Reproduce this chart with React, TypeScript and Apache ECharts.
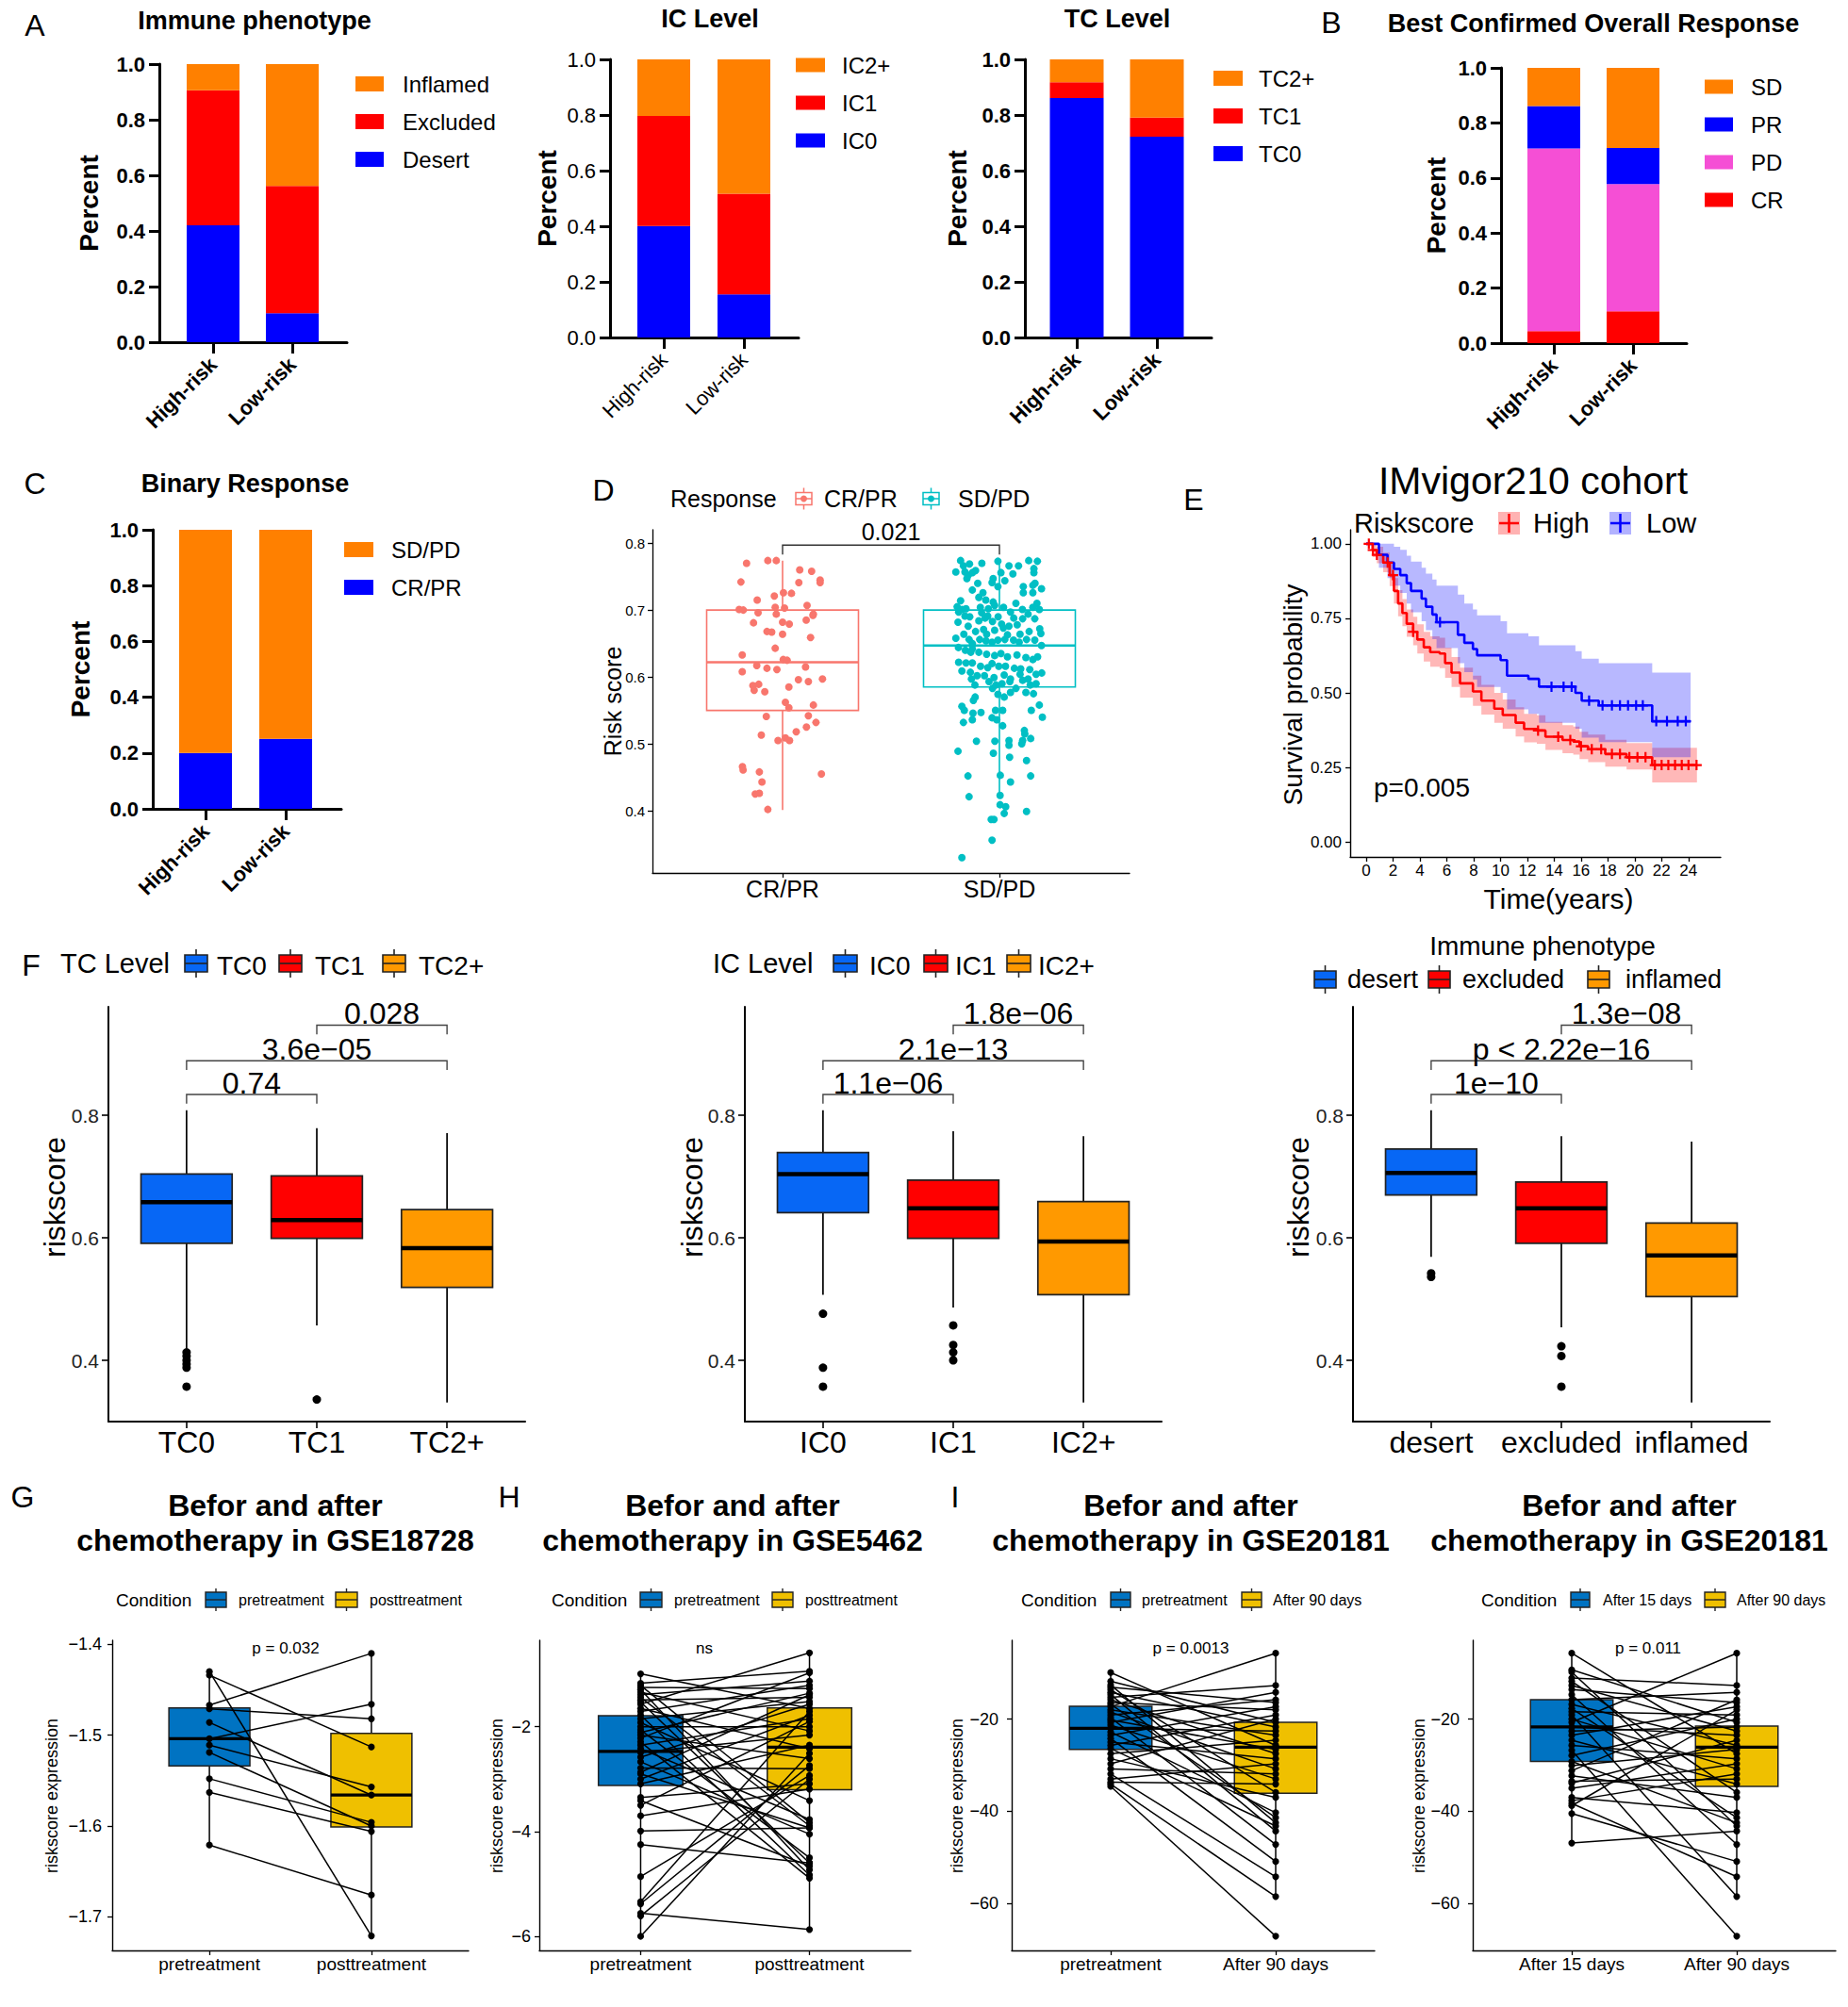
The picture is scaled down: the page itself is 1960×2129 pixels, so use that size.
import React, { useEffect, useRef } from 'react';
import * as echarts from 'echarts';

const FONT = '"Liberation Sans", Arial, Helvetica, sans-serif';

// ================= DATA =================
const riskGroups = ['High-risk', 'Low-risk'];

// A: Immune phenotype (segment fractions, High-risk / Low-risk)
const immuneDesert = [0.42, 0.104];
const immuneExcluded = [0.486, 0.458];
const immuneInflamed = [0.094, 0.438];
// A: IC Level
const icLevel0 = [0.401, 0.155];
const icLevel1 = [0.396, 0.362];
const icLevel2 = [0.203, 0.483];
// A: TC Level
const tcLevel0 = [0.861, 0.722];
const tcLevel1 = [0.057, 0.069];
const tcLevel2 = [0.082, 0.209];
// B: Best confirmed overall response
const borCR = [0.044, 0.116];
const borPD = [0.663, 0.462];
const borPR = [0.154, 0.131];
const borSD = [0.139, 0.291];
// C: Binary response
const binCRPR = [0.2, 0.251];
const binSDPD = [0.8, 0.749];

// D: Risk score by response  [min, Q1, median, Q3, max]
const responseGroups = ['CR/PR', 'SD/PD'];
const respBoxCRPR = [0.401, 0.55, 0.622, 0.7, 0.774];
const respBoxSDPD = [0.421, 0.585, 0.647, 0.7, 0.774];
// [jitter offset, risk score]
const respPointsCRPR = [
  [-0.166, 0.770], [-0.068, 0.774], [-0.029, 0.774], [-0.192, 0.742], [0.079, 0.760], [0.134, 0.758],
  [0.173, 0.745], [0.173, 0.741], [0.075, 0.741], [-0.117, 0.715], [-0.038, 0.721], [0.004, 0.726],
  [0.041, 0.725], [0.113, 0.707], [-0.2, 0.701], [-0.181, 0.700], [-0.113, 0.696], [-0.034, 0.704],
  [0.009, 0.703], [-0.029, 0.694], [0.142, 0.694], [0.14, 0.692], [-0.134, 0.681], [0, 0.682],
  [0.031, 0.679], [0.109, 0.685], [-0.072, 0.668], [-0.05, 0.667], [0, 0.664], [0.129, 0.659],
  [-0.034, 0.643], [-0.186, 0.633], [-0.119, 0.617], [-0.072, 0.613], [-0.026, 0.611], [0.003, 0.626],
  [0.021, 0.625], [0.106, 0.615], [-0.186, 0.608], [0.029, 0.585], [0.073, 0.596], [0.119, 0.593],
  [0.184, 0.597], [-0.137, 0.587], [-0.11, 0.589], [-0.131, 0.580], [-0.082, 0.578], [0.013, 0.562],
  [0.029, 0.554], [0.142, 0.558], [-0.075, 0.541], [0.119, 0.542], [0.154, 0.532], [0.11, 0.525],
  [0.063, 0.518], [-0.098, 0.513], [-0.021, 0.505], [0.013, 0.509], [0.032, 0.505], [-0.185, 0.466],
  [-0.182, 0.461], [-0.107, 0.458], [-0.095, 0.443], [0.179, 0.455], [-0.126, 0.425], [-0.107, 0.426],
  [-0.068, 0.402],
];
const respPointsSDPD = [
  [-0.179, 0.774], [-0.007, 0.773], [0.135, 0.774], [0.175, 0.773], [-0.201, 0.757], [-0.166, 0.766],
  [-0.138, 0.769], [-0.081, 0.770], [0.044, 0.766], [0.088, 0.766], [0.007, 0.756], [0.062, 0.754],
  [0.159, 0.762], [0.159, 0.756], [-0.159, 0.757], [-0.144, 0.752], [-0.125, 0.756], [-0.11, 0.759],
  [-0.029, 0.747], [0.025, 0.744], [0.11, 0.735], [0.154, 0.737], [0.164, 0.740], [0.194, 0.732],
  [-0.1, 0.740], [-0.15, 0.747], [-0.034, 0.741], [-0.007, 0.735], [-0.076, 0.726], [-0.125, 0.730],
  [0.11, 0.726], [0.154, 0.726], [-0.095, 0.719], [-0.063, 0.715], [-0.029, 0.712], [-0.179, 0.714],
  [-0.022, 0.707], [0.076, 0.710], [0.173, 0.710], [-0.195, 0.705], [-0.154, 0.702], [-0.088, 0.704],
  [-0.051, 0.702], [0.019, 0.704], [-0.188, 0.697], [-0.172, 0.701], [-0.082, 0.696], [-0.054, 0.691],
  [-0.006, 0.690], [0.051, 0.697], [0.106, 0.701], [0.154, 0.704], [0.184, 0.701], [0.163, 0.687],
  [0.132, 0.694], [0.107, 0.687], [0.066, 0.688], [0.082, 0.678], [0.044, 0.676], [0.01, 0.679],
  [-0.032, 0.683], [-0.066, 0.688], [-0.095, 0.684], [-0.137, 0.690], [-0.159, 0.691], [-0.191, 0.682],
  [-0.144, 0.676], [-0.11, 0.668], [-0.073, 0.671], [-0.059, 0.664], [-0.022, 0.670], [0.018, 0.673],
  [0.037, 0.663], [0.095, 0.664], [0.137, 0.668], [0.186, 0.672], [0.191, 0.665], [-0.201, 0.658],
  [-0.164, 0.664], [-0.14, 0.656], [-0.125, 0.650], [-0.091, 0.656], [-0.062, 0.654], [-0.034, 0.652],
  [-0.007, 0.655], [0.025, 0.656], [0.065, 0.655], [0.091, 0.652], [0.125, 0.656], [0.163, 0.655],
  [0.194, 0.647], [-0.189, 0.644], [-0.157, 0.640], [-0.132, 0.637], [-0.095, 0.637], [-0.125, 0.642],
  [-0.059, 0.634], [-0.022, 0.632], [0.007, 0.635], [0.037, 0.630], [0.081, 0.633], [0.122, 0.629],
  [0.154, 0.626], [0.176, 0.630], [-0.188, 0.622], [-0.154, 0.621], [-0.125, 0.621], [-0.087, 0.616],
  [-0.054, 0.614], [-0.034, 0.620], [-0.003, 0.616], [0.028, 0.616], [0.069, 0.613], [0.098, 0.612],
  [0.14, 0.611], [0.169, 0.604], [0.195, 0.606], [-0.173, 0.609], [-0.134, 0.607], [-0.103, 0.602],
  [-0.069, 0.602], [-0.025, 0.599], [0.022, 0.603], [0.051, 0.597], [0.132, 0.597], [0.095, 0.604],
  [-0.129, 0.597], [-0.113, 0.588], [-0.048, 0.593], [-0.016, 0.588], [0.012, 0.590], [0.048, 0.593],
  [0.076, 0.583], [0.107, 0.595], [0.169, 0.590], [0.142, 0.588], [-0.007, 0.574], [0.022, 0.570],
  [0.051, 0.577], [0.122, 0.577], [0.157, 0.575], [-0.112, 0.570], [-0.12, 0.565], [-0.032, 0.583],
  [0.184, 0.558], [-0.173, 0.556], [-0.162, 0.550], [-0.122, 0.546], [-0.085, 0.547], [-0.018, 0.550],
  [-0.012, 0.536], [0.015, 0.550], [-0.034, 0.539], [0.147, 0.550], [-0.166, 0.532], [-0.125, 0.536],
  [0.015, 0.527], [0.115, 0.520], [0.144, 0.508], [0.117, 0.515], [0.107, 0.505], [0.044, 0.505],
  [0.044, 0.498], [0.103, 0.500], [0.198, 0.540], [-0.106, 0.504], [-0.021, 0.504], [-0.028, 0.486],
  [-0.191, 0.489], [0.047, 0.480], [0.125, 0.475], [-0.145, 0.452], [0.004, 0.453], [0.051, 0.443],
  [0.144, 0.452], [-0.14, 0.421], [0.003, 0.423], [0.003, 0.409], [0.029, 0.406], [0.022, 0.396],
  [0.125, 0.399], [-0.038, 0.387], [-0.025, 0.387], [-0.034, 0.356], [-0.173, 0.330],
];

// E: Kaplan-Meier, IMvigor210
const kmTicks = [0, 2, 4, 6, 8, 10, 12, 14, 16, 18, 20, 22, 24];
const kmHighTime = [0, 0.48, 0.79, 1.27, 1.75, 2.07, 2.38, 2.7, 3.02, 3.5, 3.81, 4.29, 4.77, 5.47, 5.88, 6.36, 6.99, 7.95, 8.58, 9.54, 10.17, 11.13, 11.76, 12.71, 13.35, 14.62, 15.42, 15.89, 16.53, 17.8, 19.39, 21.3, 24.63];
const kmHighSurv = [1, 0.979, 0.963, 0.937, 0.895, 0.842, 0.8, 0.768, 0.732, 0.705, 0.679, 0.653, 0.637, 0.632, 0.6, 0.568, 0.532, 0.505, 0.474, 0.447, 0.426, 0.4, 0.379, 0.374, 0.353, 0.342, 0.337, 0.321, 0.311, 0.295, 0.284, 0.258, 0.258];
const kmHighUpper = [1, 1, 0.99, 0.97, 0.935, 0.885, 0.845, 0.815, 0.78, 0.755, 0.73, 0.705, 0.69, 0.685, 0.652, 0.62, 0.585, 0.558, 0.527, 0.5, 0.478, 0.452, 0.43, 0.425, 0.403, 0.392, 0.387, 0.37, 0.36, 0.343, 0.332, 0.316, 0.316];
const kmHighLower = [1, 0.955, 0.935, 0.905, 0.858, 0.8, 0.757, 0.724, 0.688, 0.66, 0.632, 0.605, 0.588, 0.583, 0.551, 0.52, 0.484, 0.457, 0.427, 0.4, 0.38, 0.354, 0.334, 0.329, 0.309, 0.298, 0.293, 0.278, 0.268, 0.253, 0.243, 0.2, 0.2];
const kmLowTime = [0, 0.95, 1.59, 2.07, 2.54, 3.02, 3.34, 4.13, 4.45, 4.93, 5.24, 6.83, 7.31, 7.95, 8.26, 10.01, 10.49, 12.08, 12.87, 15.58, 16.05, 17.32, 21.3, 24.16];
const kmLowSurv = [1, 0.963, 0.937, 0.916, 0.895, 0.868, 0.842, 0.816, 0.789, 0.763, 0.737, 0.695, 0.668, 0.647, 0.626, 0.61, 0.558, 0.547, 0.521, 0.5, 0.474, 0.458, 0.405, 0.405];
const kmLowUpper = [1, 1, 1, 0.99, 0.98, 0.96, 0.94, 0.92, 0.9, 0.88, 0.86, 0.83, 0.8, 0.78, 0.76, 0.74, 0.7, 0.69, 0.66, 0.64, 0.615, 0.6, 0.568, 0.568];
const kmLowLower = [1, 0.92, 0.885, 0.86, 0.835, 0.8, 0.77, 0.74, 0.71, 0.68, 0.65, 0.6, 0.57, 0.545, 0.52, 0.5, 0.445, 0.43, 0.4, 0.38, 0.35, 0.335, 0.284, 0.284];
const kmHighCensor = [[0.2, 1], [0.5, 0.979], [0.8, 0.963], [1.6, 0.937], [2.0, 0.895], [3.5, 0.705], [12.8, 0.374], [14.3, 0.353], [15.2, 0.342], [16.0, 0.321], [16.8, 0.311], [17.5, 0.311], [18.3, 0.295], [18.9, 0.295], [19.6, 0.284], [20.2, 0.284], [20.8, 0.284], [21.5, 0.258], [22.0, 0.258], [22.5, 0.258], [23.0, 0.258], [23.5, 0.258], [24.0, 0.258], [24.6, 0.258]];
const kmLowCensor = [[5.5, 0.737], [13.8, 0.521], [14.7, 0.521], [15.3, 0.521], [16.6, 0.474], [17.6, 0.458], [18.3, 0.458], [18.9, 0.458], [19.5, 0.458], [20.1, 0.458], [20.6, 0.458], [21.6, 0.405], [22.4, 0.405], [23.2, 0.405], [23.8, 0.405]];

// F: riskscore by TC level / IC level / immune phenotype  [min, Q1, median, Q3, max]
const tcCats = ['TC0', 'TC1', 'TC2+'];
const tcBoxes = [[0.419, 0.591, 0.658, 0.704, 0.808], [0.457, 0.599, 0.629, 0.701, 0.779], [0.331, 0.519, 0.583, 0.646, 0.771]];
const tcOutliers = [[1, 0.413], [1, 0.407], [1, 0.4], [1, 0.394], [1, 0.388], [1, 0.357], [2, 0.336]];
const tcSig = [[1, 2, 0.834], [1, 3, 0.889], [2, 3, 0.947]];
const tcSigLabels = ['0.74', '3.6e−05', '0.028'];
const icCats = ['IC0', 'IC1', 'IC2+'];
const icBoxes = [[0.507, 0.641, 0.704, 0.739, 0.808], [0.486, 0.599, 0.648, 0.694, 0.774], [0.331, 0.507, 0.594, 0.659, 0.766]];
const icOutliers = [[1, 0.476], [1, 0.388], [1, 0.357], [2, 0.457], [2, 0.425], [2, 0.413], [2, 0.4]];
const icSig = [[1, 2, 0.834], [1, 3, 0.889], [2, 3, 0.947]];
const icSigLabels = ['1.1e−06', '2.1e−13', '1.8e−06'];
const immCats = ['desert', 'excluded', 'inflamed'];
const immBoxes = [[0.569, 0.67, 0.706, 0.745, 0.808], [0.454, 0.591, 0.648, 0.691, 0.766], [0.331, 0.504, 0.571, 0.624, 0.757]];
const immOutliers = [[1, 0.542], [1, 0.536], [2, 0.423], [2, 0.407], [2, 0.357]];
const immSig = [[1, 2, 0.834], [1, 3, 0.889], [2, 3, 0.947]];
const immSigLabels = ['1e−10', 'p < 2.22e−16', '1.3e−08'];

// G: GSE18728
const gCats = ['pretreatment', 'posttreatment'];
const gBoxPre = [-1.621, -1.534, -1.504, -1.47, -1.43];
const gBoxPost = [-1.721, -1.601, -1.566, -1.498, -1.41];
const gPre = [-1.43, -1.434, -1.467, -1.471, -1.486, -1.504, -1.511, -1.519, -1.548, -1.563, -1.621];
const gPost = [-1.721, -1.513, -1.41, -1.482, -1.566, -1.466, -1.557, -1.6, -1.596, -1.606, -1.676];
// H: GSE5462
const hCats = ['pretreatment', 'posttreatment'];
const hBoxPre = [-6.0, -3.12, -2.47, -1.79, -0.99];
const hBoxPost = [-5.87, -3.2, -2.39, -1.64, -0.59];
const hPre = [-0.99, -1.17, -1.21, -1.25, -1.29, -1.34, -1.39, -1.44, -1.49, -1.53, -1.57, -1.65, -1.71, -1.78, -1.85, -1.92, -2.0, -2.06, -2.11, -2.16, -2.22, -2.29, -2.35, -2.42, -2.49, -2.58, -2.67, -2.79, -2.87, -2.9, -3.0, -3.09, -3.35, -3.41, -3.5, -3.7, -3.99, -4.25, -4.86, -5.34, -5.38, -5.56, -5.61, -6.0];
const hPost = [-1.65, -0.94, -3.83, -1.27, -4.73, -2.08, -1.13, -3.89, -1.44, -4.6, -0.59, -2.42, -1.21, -4.83, -1.52, -3.41, -2.0, -4.5, -1.36, -2.61, -0.97, -4.89, -1.85, -3.77, -2.16, -1.57, -4.05, -2.8, -1.39, -3.93, -1.78, -2.35, -3.09, -4.66, -1.9, -3.19, -3.93, -4.6, -2.93, -1.71, -2.74, -5.87, -3.0, -2.51];
// I: GSE20181
const iCats = ['pretreatment', 'After 90 days'];
const iBoxPre = [-34.6, -26.6, -22.0, -17.2, -9.9];
const iBoxPost = [-58.5, -36.1, -26.1, -20.7, -5.7];
const iPre = [-9.9, -11.8, -12.6, -13.1, -13.6, -14.2, -14.7, -15.3, -15.8, -16.4, -16.8, -17.3, -18.0, -18.5, -19.1, -19.7, -20.2, -20.7, -21.3, -22.0, -22.8, -23.5, -24.2, -25.0, -25.7, -26.4, -27.5, -28.6, -29.7, -30.8, -31.9, -33.0, -33.7, -34.1, -34.6];
const iPost = [-25.7, -20.7, -42.5, -16.4, -35.9, -21.7, -44.3, -12.7, -27.5, -18.0, -41.4, -5.7, -23.5, -30.8, -15.8, -47.2, -26.6, -14.2, -33.0, -22.6, -40.3, -17.3, -50.9, -28.6, -19.1, -43.2, -24.6, -37.0, -20.0, -31.9, -54.2, -29.7, -34.1, -58.5, -67.1];
const i2Cats = ['After 15 days', 'After 90 days'];
const i2BoxPre = [-46.9, -29.2, -21.7, -15.8, -5.7];
const i2BoxPost = [-58.5, -34.6, -26.1, -21.5, -5.7];
const i2Pre = [-5.7, -9.3, -9.8, -11.1, -11.8, -12.7, -13.6, -14.7, -15.8, -16.8, -17.7, -18.4, -19.1, -20.0, -20.7, -21.7, -22.6, -23.5, -24.6, -25.7, -26.8, -27.9, -29.2, -30.1, -31.2, -32.3, -33.9, -37.0, -37.7, -38.8, -40.5, -46.9, -38.3, -35.0, -33.5];
const i2Post = [-27.5, -20.7, -43.2, -12.7, -35.9, -22.6, -16.4, -47.2, -14.2, -25.7, -41.4, -19.1, -58.5, -30.8, -5.7, -23.5, -21.7, -17.3, -34.1, -28.6, -67.1, -20.0, -42.5, -26.6, -15.8, -37.0, -24.6, -40.3, -31.9, -18.0, -50.9, -44.3, -54.2, -29.7, -33.0];

// ================= COLOURS =================
const ORANGE = '#FF8000', RED = '#FF0000', BLUE = '#0000FF', PINK = '#F54FD5';
const F_BLUE = '#0767F5', F_RED = '#FF0000', F_ORANGE = '#FF9900';
const JCO_BLUE = '#0073C2', JCO_YELLOW = '#EFC000';
const D_RED = '#F8766D', D_TEAL = '#00BFC4';

// ================= HELPERS =================
function txt(text: string, x: number, y: number, size: number, o: any = {}): any {
  const align = o.align || 'left';
  const va = o.va || 'middle';
  return {
    type: 'text', x, y, rotation: o.rot || 0, silent: true, z: 10,
    style: {
      text, fill: o.color || '#000', fontSize: size, fontWeight: o.weight || 'normal', fontFamily: FONT,
      align, verticalAlign: va, textAlign: align, textVerticalAlign: va,
    },
  };
}
function rect(x: number, y: number, w: number, h: number, fill: string, stroke?: string, lw?: number): any {
  return { type: 'rect', silent: true, z: 10, shape: { x, y, width: w, height: h }, style: { fill, stroke: stroke || 'none', lineWidth: lw || 0 } };
}
function seg(x1: number, y1: number, x2: number, y2: number, stroke: string, lw: number): any {
  return { type: 'line', silent: true, z: 11, shape: { x1, y1, x2, y2 }, style: { stroke, lineWidth: lw } };
}
// small boxplot legend key
function boxKey(x: number, y: number, w: number, h: number, fill: string, stroke: string, lw: number, whisk: number): any[] {
  const cx = x + w / 2;
  return [
    seg(cx, y - h / 2 - whisk, cx, y - h / 2, stroke, lw),
    seg(cx, y + h / 2, cx, y + h / 2 + whisk, stroke, lw),
    rect(x, y - h / 2, w, h, fill, stroke, lw),
    seg(x, y, x + w, y, stroke, lw),
  ];
}

function buildOption(): any {
  const grid: any[] = [], xAxis: any[] = [], yAxis: any[] = [], series: any[] = [], graphic: any[] = [];

  const addCart = (left: number, top: number, width: number, height: number, x: any, y: any) => {
    grid.push({ left, top, width, height, containLabel: false, outerBoundsMode: 'none', show: false });
    const gi = grid.length - 1;
    xAxis.push(Object.assign({ gridIndex: gi, type: 'value', splitLine: { show: false }, splitArea: { show: false } }, x));
    yAxis.push(Object.assign({ gridIndex: gi, type: 'value', splitLine: { show: false }, splitArea: { show: false } }, y));
    return gi;
  };
  const axLine = (w: number) => ({ show: true, onZero: false, lineStyle: { color: '#000', width: w } });
  const axTick = (len: number, w: number, vals?: number[]) => {
    const t: any = { show: true, length: len, lineStyle: { color: '#000', width: w } };
    if (vals) t.customValues = vals;
    return t;
  };
  const axLabel = (size: number, margin: number, formatter: any, vals?: number[], extra: any = {}) => {
    const l: any = Object.assign({ show: true, color: '#000', fontSize: size, fontFamily: FONT, margin, formatter }, extra);
    if (vals) l.customValues = vals;
    return l;
  };
  const minusFmt = (v: number) => (v < 0 ? '\u2212' + String(Math.abs(v)) : String(v));

  // ---------- custom series factories ----------
  const boxSeries = (gi: number, data: number[][], o: any) => ({
    type: 'custom', xAxisIndex: gi, yAxisIndex: gi, silent: true, z: 2, data,
    renderItem: (params: any, api: any) => {
      const i = params.dataIndex;
      const x = api.value(0), mn = api.value(1), q1 = api.value(2), md = api.value(3), q3 = api.value(4), mx = api.value(5);
      const hw = o.width / 2;
      const a = api.coord([x - hw, q3]);
      const b = api.coord([x + hw, q1]);
      const top = api.coord([x, mx]);
      const bot = api.coord([x, mn]);
      const m = api.coord([x, md]);
      const stroke = Array.isArray(o.stroke) ? o.stroke[i] : o.stroke;
      const wstroke = o.whisker ? o.whisker : stroke;
      return {
        type: 'group', children: [
          { type: 'line', shape: { x1: top[0], y1: top[1], x2: top[0], y2: a[1] }, style: { stroke: wstroke, lineWidth: o.lw } },
          { type: 'line', shape: { x1: bot[0], y1: b[1], x2: bot[0], y2: bot[1] }, style: { stroke: wstroke, lineWidth: o.lw } },
          { type: 'rect', shape: { x: a[0], y: a[1], width: b[0] - a[0], height: b[1] - a[1] }, style: { fill: o.fill ? o.fill[i] : 'none', stroke, lineWidth: o.lw } },
          { type: 'line', shape: { x1: a[0], y1: m[1], x2: b[0], y2: m[1] }, style: { stroke: o.median || stroke, lineWidth: o.mw } },
        ],
      };
    },
  });
  const bracketSeries = (gi: number, items: number[][], labels: string[], size: number, color: string, drop: number, textOff: number) => ({
    type: 'custom', xAxisIndex: gi, yAxisIndex: gi, silent: true, z: 5, data: items,
    renderItem: (params: any, api: any) => {
      const x1 = api.value(0), x2 = api.value(1), y = api.value(2);
      const a = api.coord([x1, y - drop]), b = api.coord([x1, y]), c = api.coord([x2, y]), d = api.coord([x2, y - drop]);
      return {
        type: 'group', children: [
          { type: 'polyline', shape: { points: [a, b, c, d] }, style: { stroke: color, lineWidth: 1.4, fill: 'none' } },
          {
            type: 'text', x: (b[0] + c[0]) / 2, y: b[1] + textOff,
            style: { text: labels[params.dataIndex], fontSize: size, fontFamily: FONT, fill: '#000', align: 'center', verticalAlign: 'bottom', textAlign: 'center', textVerticalAlign: 'bottom' },
          },
        ],
      };
    },
  });
  const pairSeries = (gi: number, pre: number[], post: number[]) => ({
    type: 'custom', xAxisIndex: gi, yAxisIndex: gi, silent: true, z: 4,
    data: pre.map((v, i) => [1, v, 2, post[i]]),
    renderItem: (params: any, api: any) => {
      const p = api.coord([api.value(0), api.value(1)]);
      const q = api.coord([api.value(2), api.value(3)]);
      return {
        type: 'group', children: [
          { type: 'line', shape: { x1: p[0], y1: p[1], x2: q[0], y2: q[1] }, style: { stroke: '#000', lineWidth: 1.5 } },
          { type: 'circle', shape: { cx: p[0], cy: p[1], r: 3.6 }, style: { fill: '#000' } },
          { type: 'circle', shape: { cx: q[0], cy: q[1], r: 3.6 }, style: { fill: '#000' } },
        ],
      };
    },
  });
  const bandSeries = (gi: number, t: number[], up: number[], lo: number[], color: string) => ({
    type: 'custom', xAxisIndex: gi, yAxisIndex: gi, silent: true, z: 1, data: [[t[0], up[0]]],
    renderItem: (params: any, api: any) => {
      const stepPts = (arr: number[]) => {
        const pts: number[][] = [];
        for (let i = 0; i < t.length; i++) {
          pts.push(api.coord([t[i], arr[i]]));
          if (i + 1 < t.length) pts.push(api.coord([t[i + 1], arr[i]]));
        }
        return pts;
      };
      const pts = stepPts(up).concat(stepPts(lo).reverse());
      return { type: 'polygon', shape: { points: pts }, style: { fill: color } };
    },
  });

  // ---------- panel letters ----------
  [['A', 37, 27], ['B', 1412, 24], ['C', 37, 513], ['D', 640, 520], ['E', 1266, 530], ['F', 33, 1024], ['G', 24, 1588], ['H', 540, 1588], ['I', 1013, 1588]]
    .forEach(([l, x, y]) => graphic.push(txt(l as string, x as number, y as number, 32, { align: 'center' })));

  // ---------- stacked bar panels (A, B, C) ----------
  const barPanel = (p: any) => {
    const unit = p.c2 - p.c1;
    const fw = p.bold ? 'bold' : 'normal';
    const gi = addCart(p.left, p.top, p.right - p.left, p.bottom - p.top,
      {
        min: 1 - (p.c1 - p.left) / unit, max: 2 + (p.right - p.c2) / unit,
        axisLine: axLine(3), axisTick: axTick(12, 3, [1, 2]),
        axisLabel: axLabel(22, 20, (v: number) => riskGroups[Math.round(v) - 1] || '', [1, 2], { rotate: 45, fontWeight: fw }),
      },
      {
        min: 0, max: 1, interval: 0.2,
        axisLine: axLine(3), axisTick: axTick(11, 3),
        axisLabel: axLabel(p.tickSize, 15, (v: number) => v.toFixed(1), undefined, { fontWeight: fw }),
      });
    const bottoms = [0, 0];
    const data: number[][] = [];
    p.layers.forEach((layer: any, li: number) => {
      layer.values.forEach((v: number, k: number) => {
        data.push([k + 1, bottoms[k], bottoms[k] + v, li]);
        bottoms[k] += v;
      });
    });
    series.push({
      type: 'custom', xAxisIndex: gi, yAxisIndex: gi, silent: true, z: 2, data,
      renderItem: (params: any, api: any) => {
        const x = api.value(0), b = api.value(1), t = api.value(2), li = api.value(3);
        const p0 = api.coord([x, t]);
        const p1 = api.coord([x, b]);
        return { type: 'rect', shape: { x: p0[0] - p.barW / 2, y: p0[1], width: p.barW, height: p1[1] - p0[1] }, style: { fill: p.layers[li].color } };
      },
    });
    const rev = p.layers.slice().reverse();
    rev.forEach((layer: any, k: number) => {
      const y = p.rows[k];
      graphic.push(rect(p.legX, y - p.legH / 2, p.legW, p.legH, layer.color));
      graphic.push(txt(layer.name, p.legTextX, y, 24));
    });
    graphic.push(txt(p.title, p.titleX, p.titleY, 27, { align: 'center', weight: 'bold' }));
    graphic.push(txt('Percent', p.percentX, (p.top + p.bottom) / 2, 28, { align: 'center', weight: 'bold', rot: Math.PI / 2 }));
  };

  barPanel({
    left: 169, right: 368, top: 68, bottom: 363, c1: 226, c2: 310, barW: 56, bold: true, tickSize: 22,
    layers: [{ name: 'Desert', color: BLUE, values: immuneDesert }, { name: 'Excluded', color: RED, values: immuneExcluded }, { name: 'Inflamed', color: ORANGE, values: immuneInflamed }],
    legX: 377, legW: 30, legH: 16, legTextX: 427, rows: [89, 129, 169],
    title: 'Immune phenotype', titleX: 270, titleY: 22, percentX: 94,
  });
  barPanel({
    left: 647, right: 847, top: 63, bottom: 358, c1: 704, c2: 789, barW: 56, bold: false, tickSize: 22,
    layers: [{ name: 'IC0', color: BLUE, values: icLevel0 }, { name: 'IC1', color: RED, values: icLevel1 }, { name: 'IC2+', color: ORANGE, values: icLevel2 }],
    legX: 844, legW: 31, legH: 15, legTextX: 893, rows: [69, 109, 149],
    title: 'IC Level', titleX: 753, titleY: 20, percentX: 580,
  });
  barPanel({
    left: 1087, right: 1285, top: 63, bottom: 358, c1: 1142, c2: 1227, barW: 57, bold: true, tickSize: 22,
    layers: [{ name: 'TC0', color: BLUE, values: tcLevel0 }, { name: 'TC1', color: RED, values: tcLevel1 }, { name: 'TC2+', color: ORANGE, values: tcLevel2 }],
    legX: 1287, legW: 31, legH: 16, legTextX: 1335, rows: [83, 123, 163],
    title: 'TC Level', titleX: 1185, titleY: 20, percentX: 1015,
  });
  barPanel({
    left: 1592, right: 1789, top: 72, bottom: 364, c1: 1648, c2: 1732, barW: 56, bold: true, tickSize: 22,
    layers: [{ name: 'CR', color: RED, values: borCR }, { name: 'PD', color: PINK, values: borPD }, { name: 'PR', color: BLUE, values: borPR }, { name: 'SD', color: ORANGE, values: borSD }],
    legX: 1808, legW: 30, legH: 15, legTextX: 1857, rows: [92, 132, 172, 212],
    title: 'Best Confirmed Overall Response', titleX: 1690, titleY: 25, percentX: 1523,
  });
  barPanel({
    left: 162, right: 362, top: 562, bottom: 858, c1: 218, c2: 303, barW: 56, bold: true, tickSize: 22,
    layers: [{ name: 'CR/PR', color: BLUE, values: binCRPR }, { name: 'SD/PD', color: ORANGE, values: binSDPD }],
    legX: 365, legW: 31, legH: 16, legTextX: 415, rows: [583, 623],
    title: 'Binary Response', titleX: 260, titleY: 513, percentX: 85,
  });

  // ---------- D: risk score by response ----------
  const dTicks = [0.4, 0.5, 0.6, 0.7, 0.8];
  const dGi = addCart(692, 562, 506, 364,
    { min: 0.4, max: 2.6, axisLine: axLine(1.3), axisTick: axTick(5, 1.3, [1, 2]), axisLabel: axLabel(25, 4, (v: number) => responseGroups[Math.round(v) - 1] || '', [1, 2]) },
    { min: 0.307, max: 0.82, axisLine: axLine(1.3), axisTick: axTick(5, 1.3, dTicks), axisLabel: axLabel(15, 8, (v: number) => v.toFixed(1), dTicks) });
  series.push(boxSeries(dGi, [[1, ...respBoxCRPR], [2, ...respBoxSDPD]], { stroke: [D_RED, D_TEAL], lw: 1.6, mw: 2.4, width: 0.7 }));
  series.push({ type: 'scatter', xAxisIndex: dGi, yAxisIndex: dGi, silent: true, z: 3, symbolSize: 8, itemStyle: { color: D_RED, opacity: 1 }, data: respPointsCRPR.map(([j, v]) => [1 + j, v]) });
  series.push({ type: 'scatter', xAxisIndex: dGi, yAxisIndex: dGi, silent: true, z: 3, symbolSize: 8, itemStyle: { color: D_TEAL, opacity: 1 }, data: respPointsSDPD.map(([j, v]) => [2 + j, v]) });
  series.push(bracketSeries(dGi, [[1, 2, 0.797]], ['0.021'], 25, '#333', 0.014, -2));
  graphic.push(txt('Risk score', 650, 744, 25, { align: 'center', rot: Math.PI / 2 }));
  graphic.push(txt('Response', 711, 529, 25));
  [[844, D_RED, 'CR/PR', 874], [979, D_TEAL, 'SD/PD', 1016]].forEach(([x, c, n, tx]) => {
    const xx = x as number;
    graphic.push(...boxKey(xx, 529, 17, 13, 'none', c as string, 1.5, 5));
    graphic.push({ type: 'circle', silent: true, z: 12, shape: { cx: xx + 8.5, cy: 529, r: 3.5 }, style: { fill: c } });
    graphic.push(txt(n as string, tx as number, 529, 25));
  });

  // ---------- E: Kaplan-Meier ----------
  const eY = [0, 0.25, 0.5, 0.75, 1];
  const eGi = addCart(1432, 562, 393, 347,
    { min: -1.19, max: 26.4, axisLine: axLine(1.4), axisTick: axTick(5, 1.3, kmTicks), axisLabel: axLabel(17, 6, (v: number) => String(v), kmTicks) },
    { min: -0.05, max: 1.047, axisLine: axLine(1.4), axisTick: axTick(5, 1.3, eY), axisLabel: axLabel(17, 9, (v: number) => v.toFixed(2), eY) });
  series.push(bandSeries(eGi, kmHighTime, kmHighUpper, kmHighLower, 'rgba(255,0,0,0.28)'));
  series.push(bandSeries(eGi, kmLowTime, kmLowUpper, kmLowLower, 'rgba(0,0,255,0.28)'));
  series.push({ type: 'line', xAxisIndex: eGi, yAxisIndex: eGi, silent: true, z: 3, step: 'end', showSymbol: false, symbol: 'none', lineStyle: { color: RED, width: 2.6 }, data: kmHighTime.map((t, i) => [t, kmHighSurv[i]]) });
  series.push({ type: 'line', xAxisIndex: eGi, yAxisIndex: eGi, silent: true, z: 3, step: 'end', showSymbol: false, symbol: 'none', lineStyle: { color: BLUE, width: 2.6 }, data: kmLowTime.map((t, i) => [t, kmLowSurv[i]]) });
  const plus = 'path://M4,0h2v4h4v2h-4v4h-2v-4h-4v-2h4z';
  series.push({ type: 'scatter', xAxisIndex: eGi, yAxisIndex: eGi, silent: true, z: 4, symbol: plus, symbolSize: 11, itemStyle: { color: RED, opacity: 1 }, data: kmHighCensor });
  series.push({ type: 'scatter', xAxisIndex: eGi, yAxisIndex: eGi, silent: true, z: 4, symbol: plus, symbolSize: 11, itemStyle: { color: BLUE, opacity: 1 }, data: kmLowCensor });
  graphic.push(txt('IMvigor210 cohort', 1626, 510, 41, { align: 'center' }));
  graphic.push(txt('Riskscore', 1436, 555, 29));
  graphic.push(rect(1589, 543, 23, 24, 'rgba(255,0,0,0.3)'));
  graphic.push(seg(1590, 555, 1611, 555, RED, 2.5), seg(1600.5, 545, 1600.5, 565, RED, 2.5));
  graphic.push(txt('High', 1626, 555, 29));
  graphic.push(rect(1707, 543, 23, 24, 'rgba(0,0,255,0.3)'));
  graphic.push(seg(1708, 555, 1729, 555, BLUE, 2.5), seg(1718.5, 545, 1718.5, 565, BLUE, 2.5));
  graphic.push(txt('Low', 1746, 555, 29));
  graphic.push(txt('p=0.005', 1457, 835, 28));
  graphic.push(txt('Time(years)', 1653, 953, 30, { align: 'center' }));
  graphic.push(txt('Survival probability', 1371, 737, 28, { align: 'center', rot: Math.PI / 2 }));

  // ---------- F: three box plots ----------
  const fTicks = [0.4, 0.6, 0.8];
  const fColors = [F_BLUE, F_RED, F_ORANGE];
  const fPanel = (left: number, cats: string[], boxes: number[][], outliers: number[][], sig: number[][], sigLabels: string[], yTitleX: number) => {
    const gi = addCart(left, 1068, 442, 440,
      { min: 0.4, max: 3.6, axisLine: axLine(2), axisTick: axTick(7, 1.6, [1, 2, 3]), axisLabel: axLabel(32, 6, (v: number) => cats[Math.round(v) - 1] || '', [1, 2, 3]) },
      { min: 0.3, max: 0.977, axisLine: axLine(2), axisTick: axTick(7, 1.6, fTicks), axisLabel: axLabel(21, 10, (v: number) => v.toFixed(1), fTicks, { color: '#222' }) });
    series.push(boxSeries(gi, boxes.map((b, i) => [i + 1, ...b]), { fill: fColors, stroke: '#222', whisker: '#000', median: '#000', lw: 1.7, mw: 4.5, width: 0.7 }));
    series.push({ type: 'scatter', xAxisIndex: gi, yAxisIndex: gi, silent: true, z: 3, symbolSize: 9, itemStyle: { color: '#000', opacity: 1 }, data: outliers });
    series.push(bracketSeries(gi, sig, sigLabels, 32, '#444', 0.015, 4));
    graphic.push(txt('riskscore', yTitleX, 1270, 32, { align: 'center', rot: Math.PI / 2 }));
  };
  fPanel(115, tcCats, tcBoxes, tcOutliers, tcSig, tcSigLabels, 58);
  fPanel(790, icCats, icBoxes, icOutliers, icSig, icSigLabels, 734);
  fPanel(1435, immCats, immBoxes, immOutliers, immSig, immSigLabels, 1377);
  // F legends
  graphic.push(txt('TC Level', 64, 1022, 29));
  [[196, 230], [296, 334], [406, 444]].forEach(([kx, tx], i) => {
    graphic.push(...boxKey(kx, 1022, 24, 18, fColors[i], '#222', 1.6, 6));
    graphic.push(txt(tcCats[i], tx, 1024, 28));
  });
  graphic.push(txt('IC Level', 756, 1022, 29));
  [[884, 922], [980, 1013], [1068, 1101]].forEach(([kx, tx], i) => {
    graphic.push(...boxKey(kx, 1022, 25, 18, fColors[i], '#222', 1.6, 6));
    graphic.push(txt(icCats[i], tx, 1024, 28));
  });
  graphic.push(txt('Immune phenotype', 1636, 1003, 28, { align: 'center' }));
  [[1394, 1429], [1515, 1551], [1684, 1724]].forEach(([kx, tx], i) => {
    graphic.push(...boxKey(kx, 1039, 23, 18, fColors[i], '#222', 1.6, 6));
    graphic.push(txt(immCats[i], tx, 1039, 27));
  });

  // ---------- G, H, I: paired box plots ----------
  const pairPanel = (p: any) => {
    const gi = addCart(p.left, 1740, p.width, 329,
      { min: 0.4, max: 2.6, axisLine: axLine(1.4), axisTick: axTick(5, 1.3, [1, 2]), axisLabel: axLabel(19, 5, (v: number) => p.cats[Math.round(v) - 1] || '', [1, 2]) },
      { min: p.ymin, max: p.ymax, axisLine: axLine(1.4), axisTick: axTick(5, 1.3, p.ticks), axisLabel: axLabel(18, p.margin, minusFmt, p.ticks) });
    series.push(boxSeries(gi, [[1, ...p.boxPre], [2, ...p.boxPost]], { fill: [JCO_BLUE, JCO_YELLOW], stroke: '#222', whisker: '#000', median: '#000', lw: 1.5, mw: 3.2, width: 0.5 }));
    series.push(pairSeries(gi, p.pre, p.post));
    graphic.push(txt('Befor and after', p.titleX, 1597, 32, { align: 'center', weight: 'bold' }));
    graphic.push(txt(p.title2, p.titleX, 1634, 32, { align: 'center', weight: 'bold' }));
    graphic.push(txt('Condition', p.leg[0], 1697, 19));
    graphic.push(...boxKey(p.leg[1], 1697, p.leg[2] - p.leg[1], 16, JCO_BLUE, '#222', 1.4, 4));
    graphic.push(txt(p.cats[0], p.leg[3], 1697, 16));
    graphic.push(...boxKey(p.leg[4], 1697, p.leg[5] - p.leg[4], 16, JCO_YELLOW, '#222', 1.4, 4));
    graphic.push(txt(p.cats[1], p.leg[6], 1697, 16));
    graphic.push(txt(p.pText, p.pX, 1748, 17, { align: 'center' }));
    graphic.push(txt('riskscore expression', p.yTitleX, 1905, 18, { align: 'center', rot: Math.PI / 2 }));
  };
  pairPanel({
    left: 119, width: 378, ymin: -1.737, ymax: -1.3956, ticks: [-1.7, -1.6, -1.5, -1.4], margin: 11, cats: gCats,
    boxPre: gBoxPre, boxPost: gBoxPost, pre: gPre, post: gPost, titleX: 292, title2: 'chemotherapy in GSE18728',
    leg: [123, 218, 240, 253, 356, 379, 392], pText: 'p = 0.032', pX: 303, yTitleX: 55,
  });
  pairPanel({
    left: 572, width: 394, ymin: -6.27, ymax: -0.35, ticks: [-6, -4, -2], margin: 9, cats: hCats,
    boxPre: hBoxPre, boxPost: hBoxPost, pre: hPre, post: hPost, titleX: 777, title2: 'chemotherapy in GSE5462',
    leg: [585, 679, 702, 715, 819, 841, 854], pText: 'ns', pX: 747, yTitleX: 527,
  });
  pairPanel({
    left: 1073, width: 385, ymin: -70.2, ymax: -2.9, ticks: [-60, -40, -20], margin: 14, cats: iCats,
    boxPre: iBoxPre, boxPost: iBoxPost, pre: iPre, post: iPost, titleX: 1263, title2: 'chemotherapy in GSE20181',
    leg: [1083, 1178, 1199, 1211, 1317, 1338, 1350], pText: 'p = 0.0013', pX: 1263, yTitleX: 1015,
  });
  pairPanel({
    left: 1562, width: 385, ymin: -70.2, ymax: -2.9, ticks: [-60, -40, -20], margin: 14, cats: i2Cats,
    boxPre: i2BoxPre, boxPost: i2BoxPost, pre: i2Pre, post: i2Post, titleX: 1728, title2: 'chemotherapy in GSE20181',
    leg: [1571, 1666, 1686, 1700, 1808, 1830, 1842], pText: 'p = 0.011', pX: 1748, yTitleX: 1505,
  });

  return {
    animation: false,
    backgroundColor: '#ffffff',
    textStyle: { fontFamily: FONT },
    tooltip: { show: false },
    grid, xAxis, yAxis, series, graphic,
  };
}

export default function App() {
  const ref = useRef<HTMLDivElement>(null);
  useEffect(() => {
    document.body.style.margin = '0';
    if (!ref.current) return;
    const chart = echarts.init(ref.current, null, { renderer: 'svg', width: 1960, height: 2129 });
    chart.setOption(buildOption());
    return () => chart.dispose();
  }, []);
  return <div ref={ref} style={{ width: 1960, height: 2129, background: '#fff' }} />;
}
